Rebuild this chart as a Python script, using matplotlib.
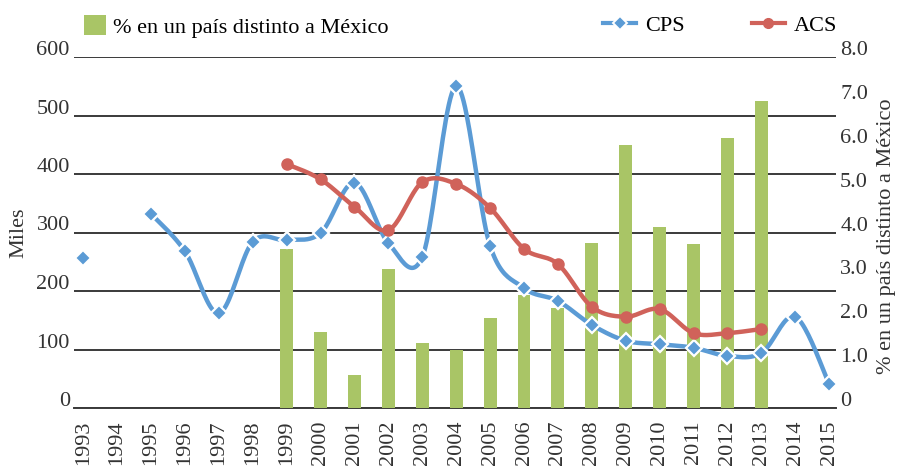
import numpy as np
import matplotlib.pyplot as plt
from matplotlib.transforms import ScaledTranslation
from matplotlib.lines import Line2D

plt.rcParams['font.family'] = ['Liberation Serif', 'DejaVu Serif']
plt.rcParams['font.size'] = 16

nan = np.nan
years = list(range(1993, 2016))
# miles (eje izquierdo)
cps = [256, nan, 332, 268, 162, 284, 287, 299, 385, 282, 258, 550, 277, 205,
       183, 142, 115, 109, 103, 89, 94, 156, 41]
acs = [nan, nan, nan, nan, nan, nan, 417, 391, 344, 304, 386, 383, 342, 272,
       246, 173, 156, 169, 128, 128, 135, nan, nan]
# porcentaje (eje derecho)
pct = [nan, nan, nan, nan, nan, nan, 3.62, 1.73, 0.75, 3.17, 1.48, 1.32, 2.05,
       2.57, 2.28, 3.76, 5.99, 4.12, 3.74, 6.15, 6.99, nan, nan]

blue = '#5b9bd5'
red = '#d0625a'
green = '#a9c566'
grid_c = '#3a3a3a'
text_c = '#333333'


def smooth(xs, ys, n=24):
    # bezier smoothing like excel's "smoothed line", one piece per continuous run
    ok = ~np.isnan(ys)
    runs, cur = [], []
    for i in range(len(xs)):
        if ok[i]:
            cur.append(i)
        elif cur:
            runs.append(cur)
            cur = []
    if cur:
        runs.append(cur)
    segs = []
    for r in runs:
        if len(r) < 2:
            continue
        P = np.array([[xs[i], ys[i]] for i in r], dtype=float)
        sx, sy = [], []
        for i in range(len(P) - 1):
            p0 = P[i - 1] if i > 0 else P[i]
            p1, p2 = P[i], P[i + 1]
            p3 = P[i + 2] if i + 2 < len(P) else P[i + 1]
            c1 = p1 + (p2 - p0) / 6
            c2 = p2 - (p3 - p1) / 6
            t = np.linspace(0, 1, n)[:, None]
            b = (1 - t) ** 3 * p1 + 3 * (1 - t) ** 2 * t * c1 + 3 * (1 - t) * t ** 2 * c2 + t ** 3 * p2
            sx.extend(b[:, 0])
            sy.extend(b[:, 1])
        segs.append((sx, sy))
    return segs


fig = plt.figure(figsize=(9.04, 4.71), dpi=100)
pos = [74 / 904, 63 / 471, 762 / 904, 351 / 471]
ax = fig.add_axes(pos)
ax2 = ax.twinx()
ax3 = fig.add_axes(pos, sharex=ax, sharey=ax)
ax.set_zorder(0)
ax2.set_zorder(1)
ax3.set_zorder(2)
ax3.patch.set_visible(False)
ax3.axis('off')

x = np.arange(len(years))

# barras en el eje derecho
bars = ax2.bar(x, pct, width=0.38, color=green, label='% en un país distinto a México')

# lineas suavizadas
for sx, sy in smooth(x, np.array(cps, dtype=float)):
    ax3.plot(sx, sy, color=blue, lw=3.2, solid_capstyle='round')
for sx, sy in smooth(x, np.array(acs, dtype=float)):
    ax3.plot(sx, sy, color=red, lw=3.2, solid_capstyle='round')
ax3.plot(x, cps, ls='none', marker='D', ms=8, mfc=blue, mec='white', mew=1.6)
ax3.plot(x, acs, ls='none', marker='o', ms=8, mfc=red, mec=red)

ax.set_xlim(-0.27, 22.2)
ax.set_ylim(0, 600)
ax2.set_ylim(0, 8)
ax.set_yticks(range(0, 601, 100))
ax2.set_yticks(range(0, 9))
ax2.set_yticklabels(['0'] + ['%.1f' % v for v in range(1, 9)])
ax.set_xticks(x)
ax.set_xticklabels([str(y) for y in years], rotation=90)

ax.grid(axis='y', color=grid_c, lw=1.4)
ax.set_axisbelow(True)
for a in (ax, ax2):
    for s in ('top', 'left', 'right'):
        a.spines[s].set_visible(False)
ax2.spines['bottom'].set_visible(False)
ax.spines['bottom'].set_color(grid_c)
ax.spines['bottom'].set_linewidth(1.4)
ax.tick_params(axis='both', length=0, colors=text_c)
ax2.tick_params(axis='y', length=0, colors=text_c, pad=3)
ax.tick_params(axis='y', pad=3)
ax.tick_params(axis='x', pad=9)

# etiquetas ligeramente arriba de la linea, como en el original
up = ScaledTranslation(0, 9 / 100, fig.dpi_scale_trans)
for lab in ax.get_yticklabels() + ax2.get_yticklabels():
    lab.set_transform(lab.get_transform() + up)

ax.set_ylabel('Miles', color=text_c)
ax2.set_ylabel('% en un país distinto a México', color=text_c)
ax.yaxis.set_label_coords(-0.060, 0.5)
ax2.yaxis.set_label_coords(1.054, 0.49)

# leyendas
fig.legend(handles=[bars], loc='upper left', bbox_to_anchor=(64 / 904, 1.01),
           frameon=False, handlelength=1.0, handleheight=1.0, handletextpad=0.3)
h_cps = Line2D([], [], color=blue, lw=3, marker='D', ms=7, mfc=blue, mec='white', mew=1.4)
h_acs = Line2D([], [], color=red, lw=3, marker='o', ms=7, mfc=red, mec=red)
fig.legend(handles=[h_cps, h_acs], labels=['CPS', 'ACS'], loc='upper left',
           bbox_to_anchor=(583 / 904, 1.01), ncol=2, frameon=False,
           handlelength=1.5, handletextpad=0.4, columnspacing=3.0)

fig.savefig('out.png', dpi=100)
